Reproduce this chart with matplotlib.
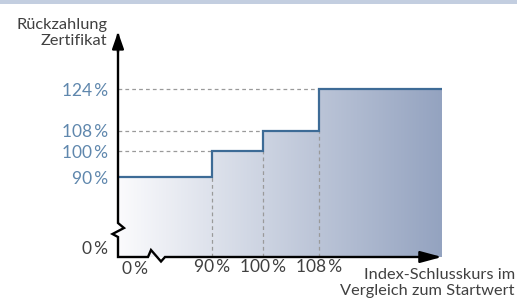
import numpy as np
import matplotlib
matplotlib.use("Agg")
import matplotlib.pyplot as plt
from matplotlib.colors import LinearSegmentedColormap
from matplotlib.path import Path
from matplotlib.patches import PathPatch

# ---- data ----
x_thresholds = [90, 100, 108]          # index level at which payout steps up
payout_levels = [90, 100, 108, 124]    # repayment levels
y_tick_labels = ["90\u2009%", "100\u2009%", "108\u2009%", "124\u2009%"]
x_tick_labels = ["90\u2009%", "100\u2009%", "108\u2009%"]
zero_label = "0\u2009%"
y_title = "Rückzahlung\nZertifikat"
x_title = "Index-Schlusskurs im\nVergleich zum Startwert"

# ---- style ----
plt.rcParams['font.family'] = ['Lato', 'DejaVu Sans']
LINE_C = "#3d6b96"
TICK_C = "#5f87ad"
TEXT_C = "#404040"
DASH_C = "#9a9a9a"
FS = 12.5
FS_T = 11.8

fig = plt.figure(figsize=(5.17, 3.04), dpi=100)
fig.patch.set_facecolor("white")
# top band
fig.add_artist(plt.Rectangle((0, 1 - 3.5 / 304), 1, 3.5 / 304, transform=fig.transFigure,
                             color="#c3cee0", lw=0))

ax = fig.add_axes([118 / 517, 47 / 304, 324 / 517, 225 / 304])
# schematic (slightly progressive) x scale
K = 0.037
ax.set_xscale("function", functions=(lambda v: np.exp(K * np.asarray(v, float)),
                                     lambda v: np.log(np.clip(np.asarray(v, float), 1e-9, None)) / K))
xmin, xmax = 42.0, 119.97
ymin, ymax = 59.23, 146.04
ax.set_xlim(xmin, xmax)
ax.set_ylim(ymin, ymax)
for s in ax.spines.values():
    s.set_visible(False)

# step function
xs = [xmin]
ys = [payout_levels[0]]
for xt, lo, hi in zip(x_thresholds, payout_levels[:-1], payout_levels[1:]):
    xs += [xt, xt]
    ys += [lo, hi]
xs.append(xmax)
ys.append(payout_levels[-1])

# gradient fill under the step
cmap = LinearSegmentedColormap.from_list("g", ["#fbfbfd", "#94a3c0"])
grad = np.linspace(0, 1, 256).reshape(1, -1)
im = ax.imshow(grad, extent=[0, 1, 0, 1], transform=ax.transAxes, aspect="auto", cmap=cmap,
               origin="lower", zorder=1)
verts = [(xmin, ymin)] + list(zip(xs, ys)) + [(xmax, ymin), (xmin, ymin)]
poly = PathPatch(Path(verts, closed=True), transform=ax.transData, facecolor="none", edgecolor="none")
ax.add_patch(poly)
im.set_clip_path(poly)
ax.set_xlim(xmin, xmax)
ax.set_ylim(ymin, ymax)

# dashed guide lines
for xt, lvl in zip(x_thresholds, payout_levels[:-1]):
    ax.plot([xt, xt], [ymin, lvl], ls=(0, (3, 2.5)), color=DASH_C, lw=0.9, zorder=2)
for xt, lvl in zip(x_thresholds, payout_levels[1:]):
    ax.plot([xmin, xt], [lvl, lvl], ls=(0, (3, 2.5)), color=DASH_C, lw=0.9, zorder=2)

ax.plot(xs, ys, color=LINE_C, lw=1.6, zorder=3, solid_joinstyle="miter")

# ticks
ax.set_yticks(payout_levels)
ax.set_yticklabels(y_tick_labels, color=TICK_C, fontsize=FS)
ax.set_xticks(x_thresholds)
ax.set_xticklabels(x_tick_labels, color=TEXT_C, fontsize=FS)
ax.minorticks_off()
ax.tick_params(axis="y", length=0, pad=7)
ax.tick_params(axis="x", length=0, pad=1.5)

# broken-axis zero labels
ax.text(-10 / 324, 8 / 225, zero_label, transform=ax.transAxes, ha="right", va="center",
        color=TEXT_C, fontsize=FS)
ax.text(17 / 324, -4 / 225, zero_label, transform=ax.transAxes, ha="center", va="top",
        color=TEXT_C, fontsize=FS)

# axes with zigzag breaks (pixel offsets in axes fraction)
W, H = 324.0, 225.0
yax = [(0, 1 - 3 / H), (0, 34 / H), (6 / W, 29 / H), (-5.5 / W, 23 / H), (0, 20 / H), (0, 0),
       (30 / W, 0), (33 / W, 7 / H), (43 / W, -4.5 / H), (47 / W, 0), (1 - 12 / W, 0)]
ax.plot([p[0] for p in yax], [p[1] for p in yax], transform=ax.transAxes, color="black",
        lw=1.7, clip_on=False, zorder=5, solid_joinstyle="miter")
ax.annotate("", xy=(0, 1), xytext=(0, 1 - 20 / H), xycoords="axes fraction",
            arrowprops=dict(arrowstyle="-|>,head_length=1.0,head_width=0.35", color="black", lw=1.7,
                            shrinkA=0, shrinkB=0), zorder=6)
ax.annotate("", xy=(1, 0), xytext=(1 - 20 / W, 0), xycoords="axes fraction",
            arrowprops=dict(arrowstyle="-|>,head_length=1.3,head_width=0.35", color="black", lw=1.7,
                            shrinkA=0, shrinkB=0), zorder=6)

# axis titles
fig.text(107 / 517, 1 - 33 / 304, y_title, ha="right", va="center", color=TEXT_C,
         fontsize=FS_T, linespacing=1.25, multialignment="right")
fig.text(1 - 2 / 517, 1 - 283 / 304, x_title, ha="right", va="center", color=TEXT_C,
         fontsize=FS_T, linespacing=1.2, multialignment="right")

fig.savefig("out.png", dpi=100)
